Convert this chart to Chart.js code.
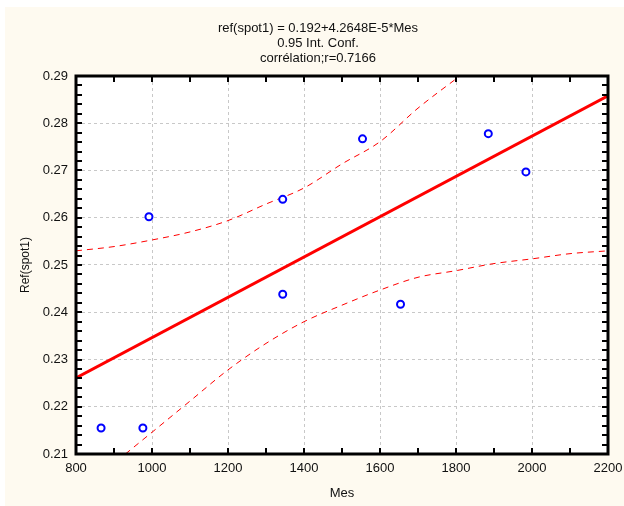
<!DOCTYPE html>
<html>
<head>
<meta charset="utf-8">
<script src="https://cdn.jsdelivr.net/npm/chart.js@4.4.0/dist/chart.umd.min.js"></script>
<style>
  html, body { margin: 0; padding: 0; background: #ffffff; }
  canvas { display: block; }
</style>
</head>
<body>
<canvas id="regChart" width="624" height="506"></canvas>
<script>
// measured points (Mes, Ref(spot1))
const mesValues = [866, 976, 992, 1344, 1344, 1554, 1654, 1885, 1984];
const refValues = [0.2155, 0.2155, 0.2602, 0.2639, 0.2438, 0.2767, 0.2417, 0.2778, 0.2697];

// fitted line ends
const fitX = [800, 2200];
const fitY = [0.2261, 0.2858];

// 0.95 confidence band
const upperX = [800, 900, 1000, 1100, 1200, 1300, 1400, 1500, 1600, 1700, 1810];
const upperY = [0.2530, 0.2539, 0.2553, 0.2570, 0.2594, 0.2629, 0.2663, 0.2714, 0.2761, 0.2832, 0.2900];
const lowerX = [930, 1000, 1100, 1200, 1300, 1400, 1500, 1600, 1700, 1800, 1900, 2000, 2100, 2200];
const lowerY = [0.2100, 0.2146, 0.2212, 0.2278, 0.2334, 0.2380, 0.2415, 0.2447, 0.2474, 0.2488, 0.2503, 0.2513, 0.2524, 0.2530];

const titleLines = ["ref(spot1) = 0.192+4.2648E-5*Mes", "0.95 Int. Conf.", "corrélation;r=0.7166"];

const toPts = (xs, ys) => xs.map((x, i) => ({x: x, y: ys[i]}));

const FONT = "'Liberation Sans', Arial, sans-serif";

// cream background, white plot area
const bgPlugin = {
    id: "bg",
    beforeDraw(chart){
        const ctx = chart.ctx, a = chart.chartArea;
        ctx.save();
        ctx.fillStyle = "#ffffff";
        ctx.fillRect(0, 0, chart.width, chart.height);
        ctx.fillStyle = "#fefaf0";
        ctx.fillRect(5, 7, chart.width - 5, chart.height - 7);
        ctx.fillStyle = "#ffffff";
        ctx.fillRect(a.left, a.top, a.right - a.left, a.bottom - a.top);
        ctx.restore();
    }
};

// frame, inward ticks and the three-line title
const framePlugin = {
    id: "frame",
    afterDraw(chart){
        const ctx = chart.ctx, a = chart.chartArea;
        const xs = chart.scales.x, ys = chart.scales.y;
        ctx.save();
        ctx.strokeStyle = "#000000";
        ctx.lineWidth = 2;
        ctx.beginPath();
        for(let v = 800; v <= 2200; v += 100){
            const px = Math.round(xs.getPixelForValue(v));
            ctx.moveTo(px, a.bottom); ctx.lineTo(px, a.bottom - 6);
            ctx.moveTo(px, a.top); ctx.lineTo(px, a.top + 6);
        }
        for(let k = 0; k <= 40; k++){
            const py = Math.round(ys.getPixelForValue(0.21 + k * 0.002));
            ctx.moveTo(a.left, py); ctx.lineTo(a.left + 6, py);
            ctx.moveTo(a.right, py); ctx.lineTo(a.right - 6, py);
        }
        ctx.stroke();
        ctx.lineWidth = 3;
        ctx.strokeRect(a.left, a.top, a.right - a.left, a.bottom - a.top);

        ctx.fillStyle = "#111111";
        ctx.font = "13px " + FONT;
        ctx.textAlign = "center";
        ctx.textBaseline = "middle";
        titleLines.forEach((t, i) => ctx.fillText(t, 318, 28 + i * 15));
        ctx.restore();
    }
};

const ctx = document.getElementById("regChart").getContext("2d");

const chart = new Chart(ctx, {
    type: "scatter",
    data: {
        datasets: [
            {
                label: "Ref(spot1)",
                data: toPts(mesValues, refValues),
                pointStyle: "circle",
                pointRadius: 3.5,
                pointBorderWidth: 2,
                pointBorderColor: "#0000ff",
                pointBackgroundColor: "#ffffff",
                showLine: false
            },
            {
                label: "fit",
                data: toPts(fitX, fitY),
                showLine: true,
                borderColor: "#ff0000",
                borderWidth: 3,
                pointRadius: 0
            },
            {
                label: "upper",
                data: toPts(upperX, upperY),
                showLine: true,
                borderColor: "#ff0000",
                borderWidth: 1,
                borderDash: [6, 5],
                cubicInterpolationMode: "monotone",
                pointRadius: 0
            },
            {
                label: "lower",
                data: toPts(lowerX, lowerY),
                showLine: true,
                borderColor: "#ff0000",
                borderWidth: 1,
                borderDash: [6, 5],
                cubicInterpolationMode: "monotone",
                pointRadius: 0
            }
        ]
    },
    options: {
        responsive: false,
        animation: false,
        devicePixelRatio: 1,
        layout: { padding: { left: 0, top: 76, right: 16, bottom: 0 } },
        plugins: {
            legend: { display: false },
            tooltip: { enabled: false }
        },
        scales: {
            x: {
                type: "linear",
                min: 800, max: 2200,
                afterFit(scale){
                    scale.height = 52;
                    scale.paddingLeft = 0;
                    scale.paddingRight = 0;
                },
                ticks: {
                    stepSize: 200,
                    padding: 7,
                    color: "#111111",
                    font: { family: FONT, size: 13 },
                    maxRotation: 0,
                    callback: v => String(v)
                },
                grid: { color: "#c8c8c8", lineWidth: 1, drawTicks: false },
                border: { display: false, dash: [3, 3] },
                title: {
                    display: true,
                    text: "Mes",
                    color: "#111111",
                    font: { family: FONT, size: 13 },
                    padding: { top: 0, bottom: 5 }
                }
            },
            y: {
                type: "linear",
                min: 0.21, max: 0.29,
                afterFit(scale){
                    scale.width = 76;
                    scale.paddingTop = 0;
                    scale.paddingBottom = 0;
                },
                ticks: {
                    stepSize: 0.01,
                    padding: 8,
                    color: "#111111",
                    font: { family: FONT, size: 13 },
                    callback: v => v.toFixed(2)
                },
                grid: { color: "#c8c8c8", lineWidth: 1, drawTicks: false },
                border: { display: false, dash: [3, 3] },
                title: {
                    display: true,
                    text: "Ref(spot1)",
                    color: "#111111",
                    font: { family: FONT, size: 12 },
                    padding: { top: 18, bottom: 0 }
                }
            }
        }
    },
    plugins: [bgPlugin, framePlugin]
});
</script>
</body>
</html>
